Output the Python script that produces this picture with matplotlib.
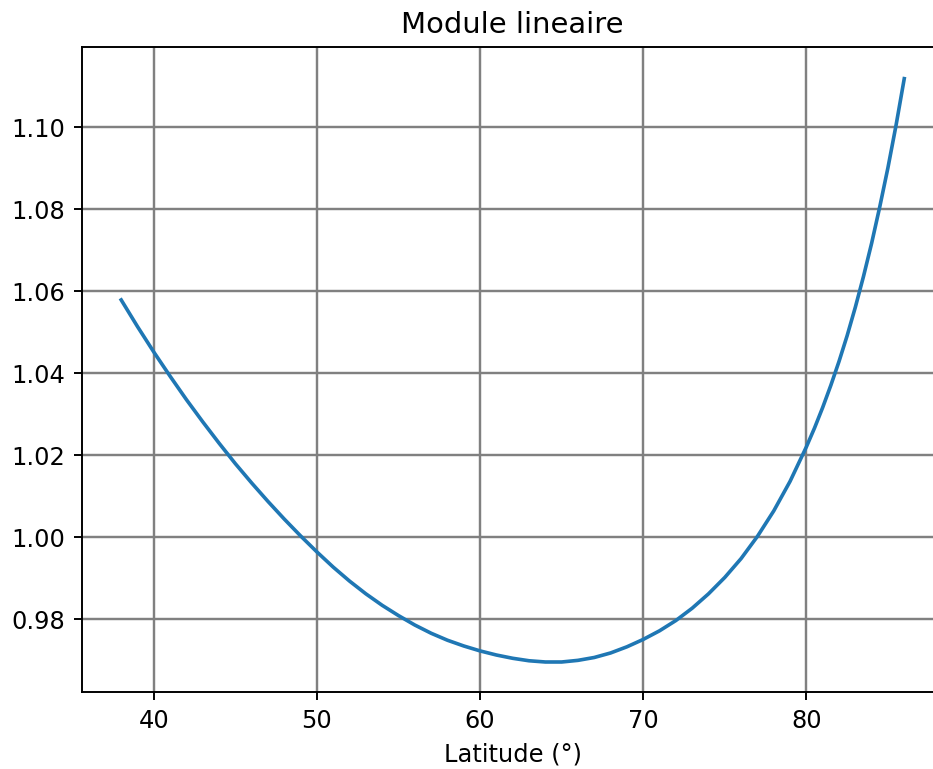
import matplotlib
matplotlib.use("Agg")
import matplotlib.pyplot as plt

latitude = [38, 39, 40, 41, 42, 43, 44, 45, 46, 47, 48, 49, 50, 51, 52, 53, 54, 55,
            56, 57, 58, 59, 60, 61, 62, 63, 64, 65, 66, 67, 68, 69, 70, 71, 72, 73,
            74, 75, 76, 77, 78, 79, 80, 80.5, 81, 81.5, 82, 82.5, 83, 83.5, 84,
            84.5, 85, 85.5, 86]
module = [1.0578, 1.0513, 1.0451, 1.0392, 1.0335, 1.0281, 1.0229, 1.0179, 1.0132,
          1.0087, 1.0044, 1.0003, 0.9964, 0.9927, 0.9893, 0.9862, 0.9834, 0.9809,
          0.9786, 0.9766, 0.9749, 0.9735, 0.9723, 0.9713, 0.9705, 0.9699, 0.9696,
          0.9696, 0.9700, 0.9707, 0.9718, 0.9733, 0.9751, 0.9772, 0.9797, 0.9827,
          0.9862, 0.9902, 0.9948, 1.0002, 1.0064, 1.0136, 1.0220, 1.0266, 1.0316,
          1.0370, 1.0428, 1.0491, 1.0560, 1.0635, 1.0716, 1.0805, 1.0900, 1.1004,
          1.1117]

DPI = 174
fig = plt.figure(figsize=(933.4 / DPI, 769.4 / DPI), dpi=DPI)
ax = fig.add_axes([82 / 933, (769 - 692) / 769, (943 - 82) / 933, (692 - 47) / 769])
ax.plot(latitude, module, color="#1f77b4", lw=1.5)
ax.grid(True, color="gray", lw=1.0)
ax.set_title("Module lineaire")
ax.set_xlabel("Latitude (°)")
ax.set_ylim(0.9623, 1.1195)
ax.set_yticks([0.98, 1.00, 1.02, 1.04, 1.06, 1.08, 1.10])
fig.savefig("out.png", dpi=DPI)
